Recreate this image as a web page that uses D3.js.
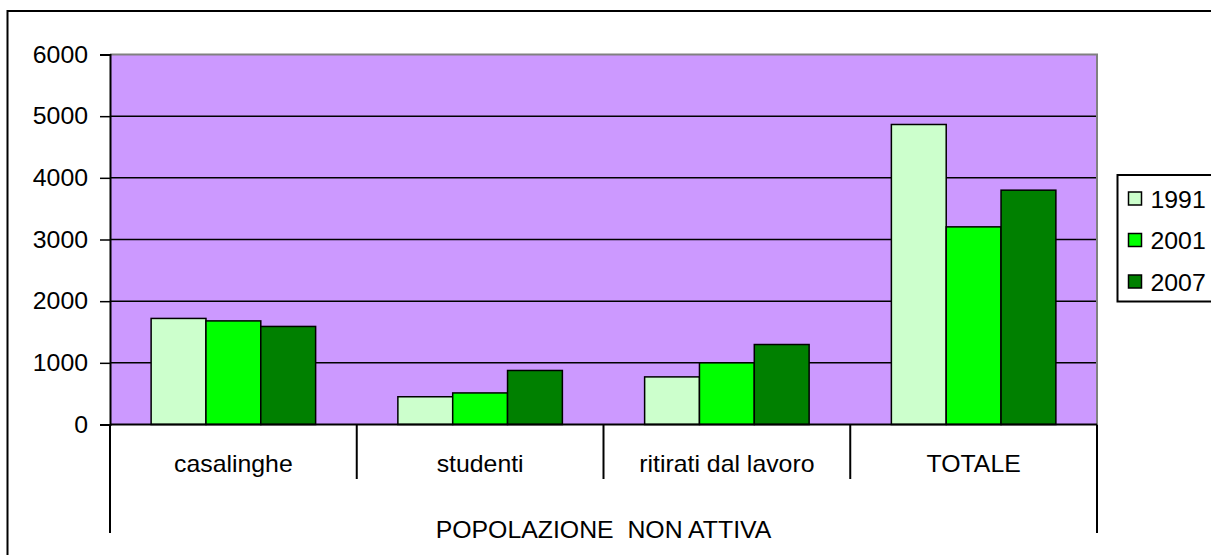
<!DOCTYPE html>
<html>
<head>
<meta charset="utf-8">
<script src="https://cdn.jsdelivr.net/npm/d3@7"></script>
<style>
  body { margin: 0; background: #fff; }
  text { font-family: Arial, "Liberation Sans", sans-serif; fill: #000; white-space: pre; }
</style>
</head>
<body>
<div id="wrapper"></div>
<script>
const categories = ["casalinghe", "studenti", "ritirati dal lavoro", "TOTALE"];
const years = ["1991", "2001", "2007"];
const values1991 = [1720, 450, 772, 4865];
const values2001 = [1680, 512, 1000, 3205];
const values2007 = [1590, 876, 1297, 3800];
const yTicks = [0, 1000, 2000, 3000, 4000, 5000, 6000];
const groupLabel = "POPOLAZIONE  NON ATTIVA";
const colors = ["#CCFFCC", "#00FF00", "#008000"];

const series = [values1991, values2001, values2007];

const dimension = {
    width: 1211,
    height: 555,
    margin: { left: 110, right: 114, top: 54.5, bottom: 130.5 }
};
const plotRight = dimension.width - dimension.margin.right;
const plotBottom = dimension.height - dimension.margin.bottom;
const fontSize = 23;
const stretch = 1.08;

const svg = d3.select("#wrapper").append("svg")
    .attr("width", dimension.width)
    .attr("height", dimension.height);

// outer chart border
svg.append("rect")
    .attr("x", 7.5).attr("y", 11)
    .attr("width", 1300).attr("height", 700)
    .attr("fill", "none").attr("stroke", "#000").attr("stroke-width", 2);

function label(g, x, y, txt, anchor) {
    return g.append("text")
        .attr("transform", `translate(${x},${y}) scale(${stretch},1)`)
        .attr("text-anchor", anchor)
        .attr("xml:space", "preserve")
        .style("font-size", fontSize + "px")
        .text(txt);
}

const x0 = d3.scaleBand()
    .domain(categories)
    .range([dimension.margin.left, plotRight]);
const x1 = d3.scaleBand()
    .domain(years)
    .range([0, x0.bandwidth()])
    .paddingOuter(0.75);
const y = d3.scaleLinear()
    .domain([0, 6000])
    .range([plotBottom, dimension.margin.top]);

// plot background
svg.append("rect")
    .attr("x", dimension.margin.left).attr("y", dimension.margin.top)
    .attr("width", plotRight - dimension.margin.left)
    .attr("height", plotBottom - dimension.margin.top)
    .attr("fill", "#CC99FF");

// gridlines
svg.append("g").selectAll("line")
    .data(yTicks.filter(d => d > 0 && d < 6000))
    .join("line")
    .attr("x1", dimension.margin.left).attr("x2", plotRight)
    .attr("y1", d => y(d)).attr("y2", d => y(d))
    .attr("stroke", "#000").attr("stroke-width", 1.5);

// top and right border (gray)
svg.append("path")
    .attr("d", `M${dimension.margin.left},${y(6000)}H${plotRight}V${plotBottom}`)
    .attr("fill", "none").attr("stroke", "#808080").attr("stroke-width", 2);

// bars
series.forEach((vals, i) => {
    svg.append("g").selectAll("rect")
        .data(vals)
        .join("rect")
        .attr("x", (d, j) => x0(categories[j]) + x1(years[i]))
        .attr("y", d => y(d))
        .attr("width", x1.bandwidth())
        .attr("height", d => y(0) - y(d))
        .attr("fill", colors[i])
        .attr("stroke", "#000").attr("stroke-width", 1.5);
});

// y axis
const yAxis = d3.axisLeft(y).tickValues(yTicks).tickSize(10).tickPadding(12).tickFormat(d3.format("d"));
const yg = svg.append("g")
    .attr("transform", `translate(${dimension.margin.left},0)`)
    .call(yAxis);
yg.select(".domain").attr("stroke", "#000").attr("stroke-width", 2);
yg.selectAll(".tick line").attr("stroke", "#000").attr("stroke-width", 1.5);
yg.selectAll(".tick text").remove();
yTicks.forEach(t => label(svg, 88, y(t) + 8, String(t), "end"));

// x axis baseline
svg.append("line")
    .attr("x1", dimension.margin.left).attr("x2", plotRight)
    .attr("y1", plotBottom).attr("y2", plotBottom)
    .attr("stroke", "#000").attr("stroke-width", 2);

// category separators
const sepY = 479;
const outerY = 533;
svg.append("g").selectAll("line")
    .data(categories.slice(1))
    .join("line")
    .attr("x1", d => x0(d)).attr("x2", d => x0(d))
    .attr("y1", plotBottom).attr("y2", sepY)
    .attr("stroke", "#000").attr("stroke-width", 2);
[dimension.margin.left, plotRight].forEach(xx => {
    svg.append("line")
        .attr("x1", xx).attr("x2", xx)
        .attr("y1", plotBottom).attr("y2", outerY)
        .attr("stroke", "#000").attr("stroke-width", 2);
});

// category labels
categories.forEach(c => label(svg, x0(c) + x0.bandwidth() / 2, 471.5, c, "middle"));
label(svg, (dimension.margin.left + plotRight) / 2, 538, groupLabel, "middle");

// legend
const legend = svg.append("g");
legend.append("rect")
    .attr("x", 1117.5).attr("y", 175)
    .attr("width", 200).attr("height", 126.5)
    .attr("fill", "#fff").attr("stroke", "#000").attr("stroke-width", 2);
years.forEach((yr, i) => {
    const cy = 199 + i * 41.5;
    legend.append("rect")
        .attr("x", 1128.5).attr("y", cy - 7)
        .attr("width", 13).attr("height", 13)
        .attr("fill", colors[i]).attr("stroke", "#000").attr("stroke-width", 1.5);
    label(legend, 1150.5, cy + 8.5, yr, "start");
});
</script>
</body>
</html>
